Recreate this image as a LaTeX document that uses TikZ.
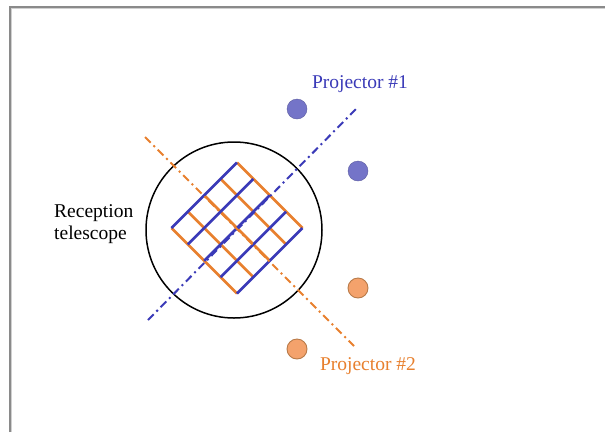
\documentclass[tikz,border=0pt]{standalone}
\usepackage{fontspec}
\setmainfont{Liberation Serif}
\definecolor{pblue}{HTML}{3A3AB8}
\definecolor{pbluefill}{HTML}{7474C8}
\definecolor{porange}{HTML}{E8802E}
\definecolor{porangefill}{HTML}{F4A26C}
\definecolor{porangeedge}{HTML}{B87A48}
\definecolor{framegray}{HTML}{8A8A8A}
\begin{document}
\begin{tikzpicture}[x=1pt,y=-1pt,
  lbl/.style={inner sep=0pt,font=\fontsize{19.5}{22.5}\selectfont},
  bluedot/.style={circle,fill=pbluefill,draw=pbluefill!80!black,line width=0.4pt,minimum size=20pt,inner sep=0pt},
  orangedot/.style={circle,fill=porangefill,draw=porangeedge,line width=0.9pt,minimum size=20pt,inner sep=0pt},
  axisline/.style={line width=2pt,dash pattern=on 8pt off 4pt on 2pt off 4pt},
  gridline/.style={line width=2.6pt}]
\useasboundingbox (0,0) rectangle (605,432);
\fill[white] (0,0) rectangle (605,432);
% frame
\draw[framegray!40,line width=1pt] (11.5,432) -- (11.5,8.5) -- (605,8.5);
\draw[framegray,line width=1.2pt] (10,432) -- (10,7) -- (605,7);
% telescope
\node[circle,draw=black,line width=1.5pt,minimum size=176pt,inner sep=0pt] (tel) at (234,230) {};
% grid (square rotated 45 degrees, corners T(237,162.5) L(171.5,228) B(237,293.5) R(302.5,228))
\foreach \i in {0,1,2,3,4}{
  \draw[gridline,porange] ({237-16.375*\i},{162.5+16.375*\i}) -- ({302.5-16.375*\i},{228+16.375*\i});
}
\foreach \i in {0,1,2,3,4}{
  \draw[gridline,pblue] ({171.5+16.375*\i},{228+16.375*\i}) -- ({237+16.375*\i},{162.5+16.375*\i});
}
% axes
\coordinate (b1) at (148,320);
\coordinate (b2) at (356,109);
\coordinate (o1) at (145,137);
\coordinate (o2) at (354,346);
\draw[axisline,pblue] (b1) -- (b2);
\draw[axisline,porange] (o1) -- (o2);
% projectors
\node[bluedot] (pb1) at (297,109) {};
\node[bluedot] (pb2) at (358,171) {};
\node[orangedot] (po1) at (358,288) {};
\node[orangedot] (po2) at (297,349) {};
% labels
\node[lbl,text=pblue] (l1) at (360,84) {Projector \#1};
\node[lbl,text=porange] (l2) at (368,366) {Projector \#2};
\node[lbl,align=left,anchor=west] (l3) at (54,224) {Reception\\telescope};
\end{tikzpicture}
\end{document}
